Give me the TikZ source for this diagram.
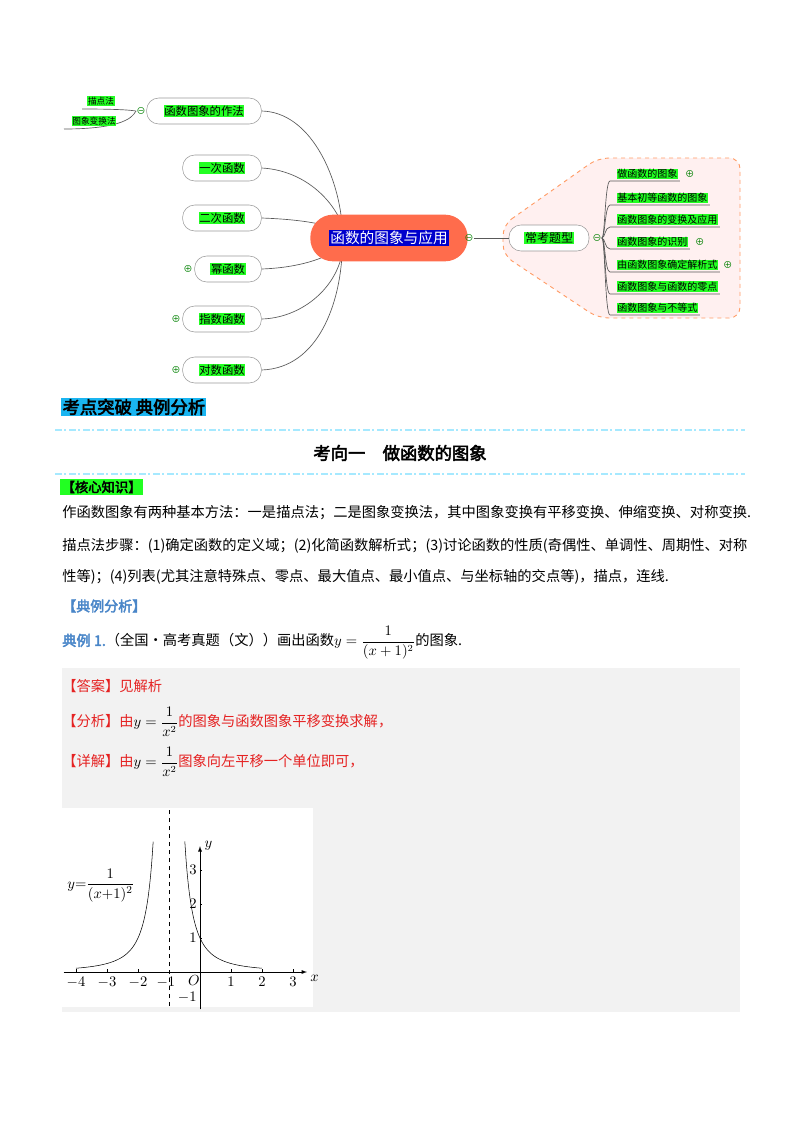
\documentclass[tikz,border=0pt]{standalone}
\usepackage{amsmath}
\usepackage{fontspec}
\setmainfont[AutoFakeBold=3]{Noto Sans CJK SC}
\usetikzlibrary{backgrounds,calc}
\definecolor{gr}{HTML}{22FF22}
\definecolor{bl}{HTML}{4A86C8}
\definecolor{rd}{HTML}{E52222}
\newcommand\gb[1]{{\setlength\fboxsep{0.6pt}\colorbox{gr}{#1}}}
\begin{document}
\begin{tikzpicture}[x=0.75pt,y=-0.75pt,
  pill/.style={draw=gray!80,fill=white,rounded corners=9pt,minimum height=19.5pt,font=\fontsize{8.5}{9}\selectfont,inner xsep=4pt},
  cur/.style={draw=gray!70!black,line width=0.5pt},
  sym/.style={text=green!50!black,font=\fontsize{7}{7}\selectfont,inner sep=0pt},
  item/.style={font=\fontsize{7.5}{8}\selectfont,inner sep=1pt,anchor=south west},
  body/.style={font=\fontsize{10.7}{11}\selectfont,anchor=west,inner sep=0pt},
  dd/.style={draw=blue!25!cyan!35,line width=1.5pt,dash pattern=on 5pt off 2pt on 1.5pt off 2pt}]
\useasboundingbox (0,0) rectangle (800,1132);
% right dashed region
\filldraw[fill=red!6,draw=orange!70!red!60,dashed,line width=0.7pt,rounded corners=8pt]
 (503,225) -- (598,158) -- (740,158) -- (740,318) -- (598,318) -- (503,255) -- cycle;
% central
\node[draw=none,fill=red!65!orange!70,rounded corners=17pt,minimum width=118pt,minimum height=35pt] (c) at (389,238) {};
\node[fill=blue!80!black,text=white,inner sep=1pt,font=\fontsize{11}{12}\selectfont] at (389,238) {函数的图象与应用};
\node[sym] (cm) at (469,238) {⊖};
% left nodes
\node[pill,minimum width=86pt] (n0) at (204,111) {\gb{函数图象的作法}};
\node[pill,minimum width=59pt] (n1) at (222,168) {\gb{一次函数}};
\node[pill,minimum width=59pt] (n2) at (222,218) {\gb{二次函数}};
\node[pill,minimum width=50pt] (n3) at (228,269) {\gb{幂函数}};
\node[pill,minimum width=59pt] (n4) at (222,319) {\gb{指数函数}};
\node[pill,minimum width=59pt] (n5) at (222,370) {\gb{对数函数}};
\node[sym] (m0) at (141,111) {⊖};
\node[sym] at (188,269) {⊕};
\node[sym] at (176,319) {⊕};
\node[sym] at (176,370) {⊕};
\node[font=\fontsize{6.5}{7}\selectfont,inner sep=0.5pt] (s1) at (101,101) {\gb{描点法}};
\node[font=\fontsize{6.5}{7}\selectfont,inner sep=0.5pt] (s2) at (94,121) {\gb{图象变换法}};
\coordinate (ct) at (342,224);
\coordinate (cb) at (342,254);
\begin{scope}[on background layer]
\draw[cur] (n0.east) .. controls (310,112) and (338,175) .. (ct);
\draw[cur] (n1.east) .. controls (300,170) and (330,195) .. (ct);
\draw[cur] (n2.east) .. controls (290,219) and (320,222) .. (340,230);
\draw[cur] (n3.east) .. controls (290,268) and (320,262) .. (340,248);
\draw[cur] (n4.east) .. controls (300,318) and (335,290) .. (cb);
\draw[cur] (n5.east) .. controls (320,368) and (340,300) .. (cb);
\draw[cur] (m0.west) .. controls (134,111) and (130,109) .. (82,109);
\draw[cur] (m0.west) .. controls (134,112) and (134,129) .. (64,129);
\end{scope}
% right
\node[pill,minimum width=60pt,font=\fontsize{9}{10}\selectfont] (k) at (549,238) {\gb{常考题型}};
\node[sym] (km) at (597,238) {⊖};
\draw[cur] (cm.east) -- (k.west);
\foreach \t/\y/\n in {做函数的图象/181/i1,基本初等函数的图象/205/i2,函数图象的变换及应用/227/i3,函数图象的识别/249/i4,由函数图象确定解析式/272/i5,函数图象与函数的零点/294/i6,函数图象与不等式/315/i7}{
  \node[item] (\n) at (615,\y) {\gb{\t}};
  \draw[cur] (km.east) .. controls (605,238) and (605,\y) .. (610,\y) -- (\n.south east);
}
\node[sym] at ($(i1.east)+(10,0)$) {⊕};
\node[sym] at ($(i4.east)+(10,0)$) {⊕};
\node[sym] at ($(i5.east)+(8,0)$) {⊕};
% section header
\node[fill=cyan!90!white,inner sep=1pt,anchor=west,font=\fontsize{13}{14}\selectfont\bfseries] (h1) at (61,407) {考点突破\ 典例分析};
\draw[dd] (55,430) -- (745,430);
\node[font=\fontsize{13}{14}\selectfont\bfseries] (h2) at (400,453) {考向一\quad 做函数的图象};
\draw[dd] (55,474) -- (745,474);
\node[fill=gr,inner sep=1pt,anchor=west,font=\fontsize{10}{11}\selectfont\bfseries] (h3) at (60,487) {【核心知识】};
\node[body] (b1) at (62,513) {作函数图象有两种基本方法：一是描点法；二是图象变换法，其中图象变换有平移变换、伸缩变换、对称变换.};
\node[body] (b2) at (62,546) {描点法步骤：(1)确定函数的定义域；(2)化简函数解析式；(3)讨论函数的性质(奇偶性、单调性、周期性、对称};
\node[body] (b3) at (62,577) {性等)；(4)列表(尤其注意特殊点、零点、最大值点、最小值点、与坐标轴的交点等)，描点，连线.};
\node[body,text=bl,font=\fontsize{10.5}{11}\selectfont\bfseries] (b4) at (62,606) {【典例分析】};
\node[body] (b5) at (62,643) {\textcolor{bl}{\textbf{典例 1.}}（全国·高考真题（文））画出函数$y=\dfrac{1}{(x+1)^2}$的图象.};
% answer box
\fill[gray!10] (62,668) rectangle (740,1012);
\node[body,text=rd] (a1) at (62,686) {【答案】见解析};
\node[body,text=rd] (a2) at (62,722) {【分析】由\textcolor{black}{$y=\dfrac{1}{x^2}$}的图象与函数图象平移变换求解，};
\node[body,text=rd] (a3) at (62,762) {【详解】由\textcolor{black}{$y=\dfrac{1}{x^2}$}图象向左平移一个单位即可，};
% graph
\fill[white] (62,808) rectangle (313,1007);
\begin{scope}[shift={(200,972)},x=23.25pt,y=25.5pt,font=\fontsize{11}{12}\selectfont]
\draw[-latex] (-4.4,0) -- (3.45,0) node[right=-1pt,yshift=-5pt] {$x$};
\draw[-latex] (0,-1.1) -- (0,3.7) node[right=0pt] {$y$};
\draw[dashed] (-1,-1) -- (-1,4.8);
\foreach \v in {-4,-3,-2,1,2,3}{\draw (\v,0) -- (\v,0.08); \node[below] at (\v,0) {$\v$};}
\node[below] at (-1.1,0) {$-1$};
\node[below] at (-0.2,0.05) {$O$};
\foreach \v in {1,2,3}{\draw (0,\v) -- (0.08,\v); \node[left=-1pt] at (0,\v) {$\v$};}
\node[left=-1pt] at (0,-0.75) {$-1$};
\draw[smooth,domain=-4:-1.51,samples=60] plot (\x,{1/((\x+1)*(\x+1))});
\draw[smooth,domain=-0.49:2,samples=60] plot (\x,{1/((\x+1)*(\x+1))});
\node at (-3.2,2.55) {$y{=}\dfrac{1}{(x{+}1)^2}$};
\end{scope}
\end{tikzpicture}
\end{document}
